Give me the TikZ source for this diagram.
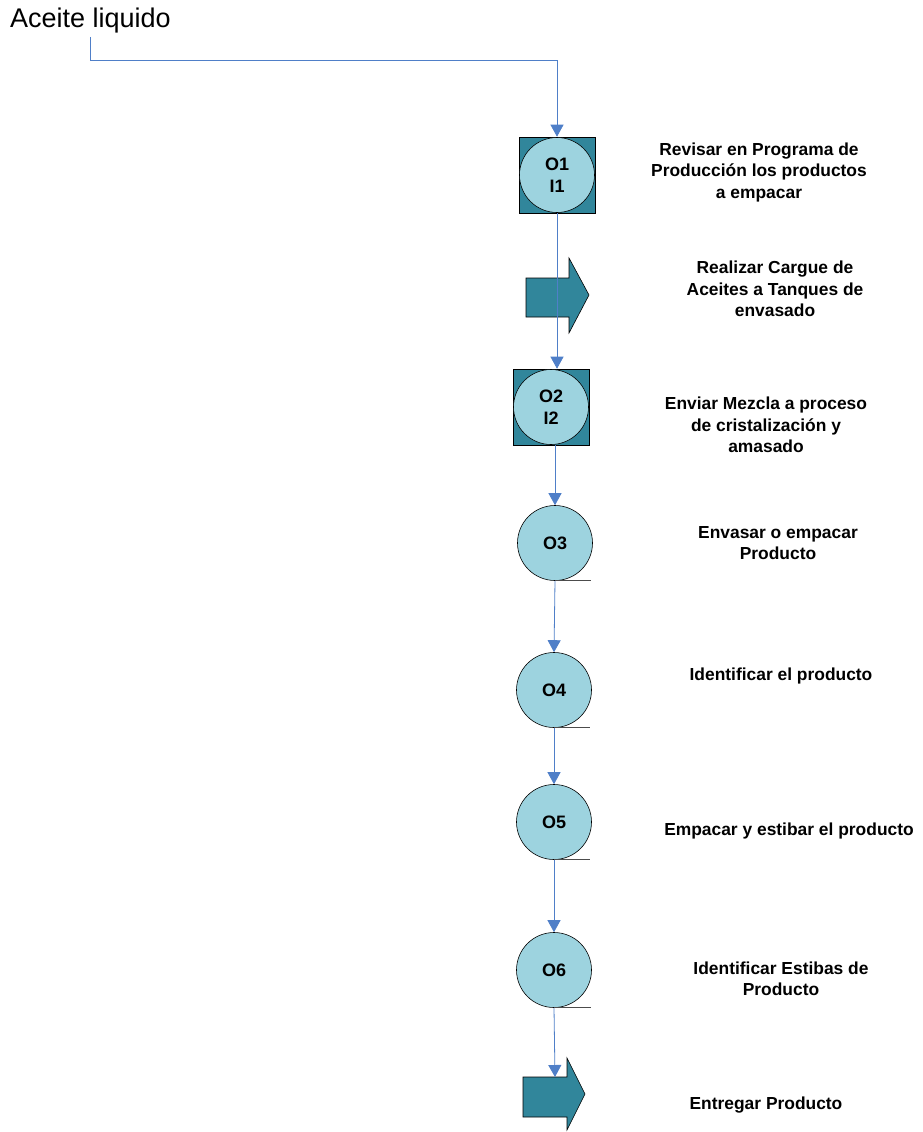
\documentclass[tikz,border=0pt]{standalone}
\usepackage{fontspec}
\setmainfont{Liberation Sans}
\usetikzlibrary{arrows.meta}
\definecolor{tealbox}{HTML}{31869B}
\definecolor{lightcirc}{HTML}{9DD3DF}
\definecolor{flowblue}{HTML}{4F7FC8}
\begin{document}
\begin{tikzpicture}[x=1pt,y=-1pt,
  opbox/.style={draw=black, line width=0.6pt, fill=tealbox, minimum size=76pt, inner sep=0pt},
  opcirc/.style={circle, draw=black, line width=0.6pt, fill=lightcirc, minimum size=75pt, inner sep=0pt,
    font=\fontsize{18}{22}\selectfont\bfseries, align=center},
  desc/.style={font=\fontsize{17.4}{21.5}\selectfont\bfseries, align=center},
  flow/.style={draw=flowblue, line width=0.8pt, -{Triangle[length=12pt,width=13pt]}},
  tick/.style={draw=black!70, line width=0.8pt},
  bigarrow/.style={draw=black, line width=0.6pt, fill=tealbox}]
\useasboundingbox (0,0) rectangle (922,1132);

% source label
\node[anchor=base west, font=\fontsize{27}{30}\selectfont, inner sep=0pt] (src) at (10,28) {Aceite liquido};
\coordinate (srcfoot) at (90,37);

% transport symbols
\draw[bigarrow] (526,278) -- (569,278) -- (569,258) -- (589,295) -- (569,333) -- (569,317) -- (526,317) -- cycle;
\draw[bigarrow] (523,1077) -- (567,1077) -- (567,1058) -- (585,1094) -- (567,1130) -- (567,1117) -- (523,1117) -- cycle;
\coordinate (deliver) at (555,1077);

% combined operation / inspection steps
\node[opbox] (b1) at (557,175) {};
\node[opcirc] (o1) at (557,175) {O1\\I1};
\node[opbox] (b2) at (551,407) {};
\node[opcirc] (o2) at (551,407) {O2\\I2};

% operations
\node[opcirc] (o3) at (555,543) {O3};
\node[opcirc] (o4) at (554,690) {O4};
\node[opcirc] (o5) at (554,822) {O5};
\node[opcirc] (o6) at (554,970) {O6};

% base ticks under the operation circles
\draw[tick] (o3.south) -- ++(36,0);
\draw[tick] (o4.south) -- ++(36,0);
\draw[tick] (o5.south) -- ++(36,0);
\draw[tick] (o6.south) -- ++(37,0);

% flow lines
\draw[flow] (srcfoot) -- (90,60) -| (b1.north);
\draw[flow] (b1.south) -- (b2.north -| b1.south);
\draw[flow] (555,445) -- (o3.north);
\draw[flow] (o3.south) -- (o4.north);
\draw[flow] (o4.south) -- (o5.north);
\draw[flow] (o5.south) -- (o6.north);
\draw[flow] (o6.south) -- (deliver);

% step descriptions
\node[desc] (t1) at (759,172) {Revisar en Programa de\\Producción los productos\\a empacar};
\node[desc] (t2) at (775,289) {Realizar Cargue de\\Aceites a Tanques de\\envasado};
\node[desc] (t3) at (766,425) {Enviar Mezcla a proceso\\de cristalización y\\amasado};
\node[desc] (t4) at (778,543) {Envasar o empacar\\Producto};
\node[desc] (t5) at (781,676) {Identificar el producto};
\node[desc] (t6) at (789,831) {Empacar y estibar el producto};
\node[desc] (t7) at (781,979) {Identificar Estibas de\\Producto};
\node[desc] (t8) at (766,1105) {Entregar Producto};
\end{tikzpicture}
\end{document}
